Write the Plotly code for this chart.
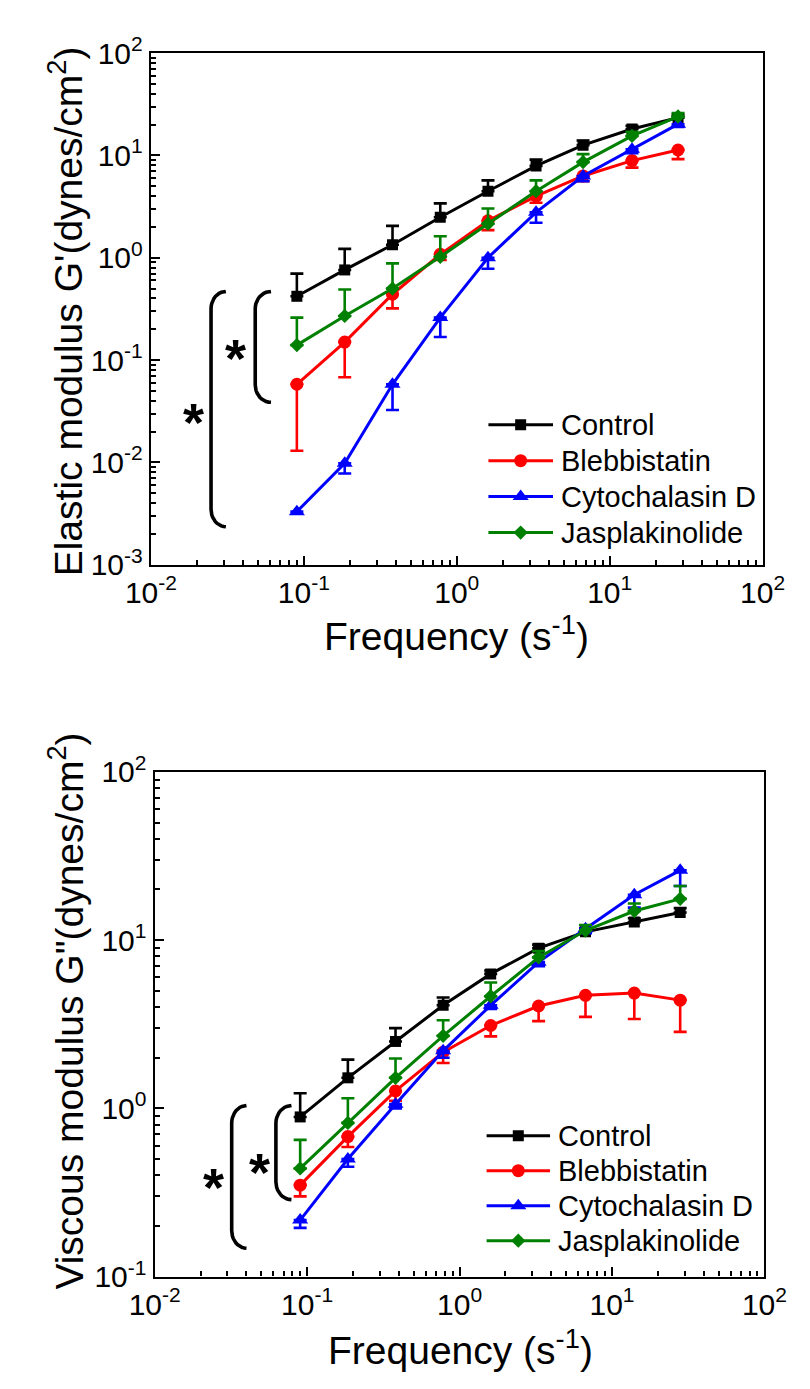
import math
import plotly.graph_objects as go

W, H = 810, 1389

# ---------------- data ----------------
freq = [0.09, 0.185, 0.38, 0.78, 1.6, 3.3, 6.7, 14, 28]
series_names = ["Control", "Blebbistatin", "Cytochalasin D", "Jasplakinolide"]

# Elastic modulus G' (values and error-bar ends)
g1_control = [0.42, 0.76, 1.34, 2.49, 4.47, 7.9, 12.6, 18.1, 23.4]
g1_control_end = [0.70, 1.22, 2.05, 3.4, 5.7, 9.1, 14.0, 19.5, 25.0]
g1_bleb = [0.058, 0.150, 0.44, 1.08, 2.3, 4.0, 6.3, 8.9, 11.3]
g1_bleb_end = [0.013, 0.068, 0.32, 0.95, 1.86, 3.45, 5.6, 7.6, 9.2]
g1_cyto = [0.0033, 0.0098, 0.058, 0.26, 1.0, 2.78, 6.3, 11.5, 20.2]
g1_cyto_end = [0.0033, 0.0078, 0.0325, 0.168, 0.78, 2.2, 5.6, 10.5, 19.0]
g1_jasp = [0.14, 0.27, 0.50, 1.02, 2.15, 4.47, 8.6, 15.5, 24.0]
g1_jasp_end = [0.26, 0.49, 0.88, 1.62, 3.03, 5.7, 10.3, 17.0, 26.0]

# Viscous modulus G''
g2_control = [0.89, 1.52, 2.5, 4.1, 6.3, 8.96, 11.2, 12.8, 14.6]
g2_control_end = [1.23, 1.95, 3.0, 4.56, 6.6, 9.4, 11.8, 13.5, 15.5]
g2_bleb = [0.35, 0.68, 1.27, 2.16, 3.11, 4.06, 4.7, 4.85, 4.4]
g2_bleb_end = [0.30, 0.59, 1.11, 1.86, 2.68, 3.3, 3.5, 3.4, 2.85]
g2_cyto = [0.217, 0.50, 1.06, 2.2, 4.1, 7.4, 11.7, 18.6, 26.0]
g2_cyto_end = [0.195, 0.45, 1.0, 2.0, 3.9, 7.0, 11.0, 15.6, 21.0]
g2_jasp = [0.44, 0.82, 1.52, 2.7, 4.64, 7.9, 11.4, 14.9, 17.6]
g2_jasp_end = [0.65, 1.15, 1.98, 3.34, 5.6, 8.6, 12.3, 16.5, 21.0]

x_tickvals = [0.01, 0.1, 1, 10, 100]
x_ticktext = ["10<sup>-2</sup>", "10<sup>-1</sup>", "10<sup>0</sup>", "10<sup>1</sup>", "10<sup>2</sup>"]
y1_tickvals = [0.001, 0.01, 0.1, 1, 10, 100]
y1_ticktext = ["10<sup>-3</sup>", "10<sup>-2</sup>", "10<sup>-1</sup>", "10<sup>0</sup>", "10<sup>1</sup>", "10<sup>2</sup>"]
y2_tickvals = [0.1, 1, 10, 100]
y2_ticktext = ["10<sup>-1</sup>", "10<sup>0</sup>", "10<sup>1</sup>", "10<sup>2</sup>"]

# significance brackets (log10 units): vertical x, arm x, top y, bottom y
br1_xv = [-1.607, -1.318]
br1_xa = [-1.510, -1.215]
br1_yt = [-0.329, -0.329]
br1_yb = [-2.629, -1.413]
star1_x = [-1.723, -1.447]
star1_y = [-1.479, -0.852]
br2_xv = [-1.495, -1.205]
br2_xa = [-1.398, -1.103]
br2_yt = [0.017, 0.017]
br2_yb = [-0.831, -0.542]
star2_x = [-1.612, -1.31]
star2_y = [-0.387, -0.301]

# ---------------- styles ----------------
colors = ["#000000", "#FF0000", "#0000FF", "#008000"]
symbols = ["square", "circle", "triangle-up", "diamond"]
msizes = [11, 13, 14, 11]
err_up = [True, False, False, True]
FONT = "Arial, Liberation Sans, sans-serif"

fig = go.Figure()


def px_x(p):
    return p / W


def px_y(p):
    return 1 - p / H


def err(vals, ends, up, color):
    n = len(vals)
    if up:
        arr = [e - v for v, e in zip(vals, ends)]
        return dict(type="data", symmetric=False, array=arr, arrayminus=[0] * n,
                    color=color, thickness=2.6, width=6.5)
    arr = [v - e for v, e in zip(vals, ends)]
    return dict(type="data", symmetric=False, array=[0] * n, arrayminus=arr,
                color=color, thickness=2.6, width=6.5)


panels = [
    ("x", "y", [g1_control, g1_bleb, g1_cyto, g1_jasp],
     [g1_control_end, g1_bleb_end, g1_cyto_end, g1_jasp_end]),
    ("x2", "y2", [g2_control, g2_bleb, g2_cyto, g2_jasp],
     [g2_control_end, g2_bleb_end, g2_cyto_end, g2_jasp_end]),
]

for xa, ya, vals, ends in panels:
    for i in range(4):
        fig.add_trace(go.Scatter(
            x=freq, y=vals[i], xaxis=xa, yaxis=ya, mode="lines+markers",
            name=series_names[i], showlegend=False,
            line=dict(color=colors[i], width=3),
            marker=dict(symbol=symbols[i], size=msizes[i], color=colors[i]),
            error_y=err(vals[i], ends[i], err_up[i], colors[i]),
        ))


def bracket(xv, xa_, yt, yb, dy):
    """Bracket '[' with rounded (elliptic) ends, in log10 units."""
    rx = xa_ - xv
    xs, ys = [], []
    n = 10
    for k in range(n + 1):  # top arc: from arm tip to vertical
        a = math.pi / 2 + (math.pi / 2) * k / n
        xs.append(xv + rx + rx * math.cos(a))
        ys.append(yt - dy + dy * math.sin(a))
    for k in range(n + 1):  # bottom arc: from vertical to arm tip
        a = math.pi + (math.pi / 2) * k / n
        xs.append(xv + rx + rx * math.cos(a))
        ys.append(yb + dy + dy * math.sin(a))
    return [10 ** v for v in xs], [10 ** v for v in ys]


for (xvs, xas, yts, ybs, dy, xa, ya) in [
    (br1_xv, br1_xa, br1_yt, br1_yb, 0.17, "x", "y"),
    (br2_xv, br2_xa, br2_yt, br2_yb, 0.105, "x2", "y2"),
]:
    for j in range(len(xvs)):
        bx, by = bracket(xvs[j], xas[j], yts[j], ybs[j], dy)
        fig.add_trace(go.Scatter(
            x=bx, y=by, xaxis=xa, yaxis=ya, mode="lines", showlegend=False,
            hoverinfo="skip", line=dict(color="black", width=3.6),
        ))

annotations = []
for sx, sy, xr, yr in [(star1_x, star1_y, "x", "y"), (star2_x, star2_y, "x2", "y2")]:
    for j in range(len(sx)):
        annotations.append(dict(
            x=sx[j], y=sy[j], xref=xr, yref=yr, text="<b>*</b>", showarrow=False,
            font=dict(family=FONT, size=54, color="black"), xanchor="center",
            yanchor="middle", yshift=-13,
        ))

# ---------------- manual legends ----------------
legend_rows = [3.5, 2.5, 1.5, 0.5]
for (lx, ly) in [("x3", "y3"), ("x4", "y4")]:
    for i in range(4):
        fig.add_trace(go.Scatter(
            x=[0, 0.5, 1], y=[legend_rows[i]] * 3, xaxis=lx, yaxis=ly,
            mode="lines", showlegend=False, hoverinfo="skip",
            line=dict(color=colors[i], width=3),
        ))
        fig.add_trace(go.Scatter(
            x=[0.5], y=[legend_rows[i]], xaxis=lx, yaxis=ly,
            mode="markers", showlegend=False, hoverinfo="skip",
            marker=dict(symbol=symbols[i], size=msizes[i], color=colors[i]),
        ))
        annotations.append(dict(
            x=1, y=legend_rows[i], xref=lx, yref=ly, text=series_names[i],
            showarrow=False, xanchor="left", yanchor="middle", xshift=6,
            font=dict(family=FONT, size=29, color="black"),
        ))

# axis titles
title_font = dict(family=FONT, size=39, color="black")
annotations += [
    dict(x=px_x(458), y=px_y(630), xref="paper", yref="paper", showarrow=False,
         text="Frequency (s<sup>-1</sup>)", font=title_font, xanchor="center", yanchor="middle"),
    dict(x=px_x(462), y=px_y(1364), xref="paper", yref="paper", showarrow=False,
         text="Frequency (s<sup>-1</sup>)", font=title_font, xanchor="center", yanchor="middle"),
    dict(x=px_x(42), y=px_y(298), xref="paper", yref="paper", showarrow=False, textangle=-90,
         text="Elastic modulus G'(dynes/cm<sup>2</sup>)", font=title_font,
         xanchor="center", yanchor="middle"),
    dict(x=px_x(42), y=px_y(1018), xref="paper", yref="paper", showarrow=False, textangle=-90,
         text="Viscous modulus G\"(dynes/cm<sup>2</sup>)", font=title_font,
         xanchor="center", yanchor="middle"),
]


def minor_vals(lo, hi):
    out = []
    for e in range(lo, hi):
        for m in range(2, 10):
            out.append(m * 10 ** e)
    return out


def log_axis(domain, rng, tv, tt, minors):
    return dict(
        type="log", domain=domain, range=rng, showline=True, linecolor="black",
        linewidth=2.4, mirror=True, ticks="inside", ticklen=9, tickwidth=2,
        tickcolor="black", showgrid=False, zeroline=False,
        tickmode="array", tickvals=tv, ticktext=tt,
        tickfont=dict(family=FONT, size=30, color="black"),
        minor=dict(ticks="inside", ticklen=5, tickwidth=1.5, tickcolor="black",
                   tickvals=minors, showgrid=False),
    )


hidden = dict(visible=False, showgrid=False, zeroline=False, fixedrange=True)

fig.update_layout(
    width=W, height=H, margin=dict(l=0, r=0, t=0, b=0),
    paper_bgcolor="white", plot_bgcolor="white", showlegend=False,
    xaxis=log_axis([px_x(133), px_x(784)], [-2, 2], x_tickvals, x_ticktext, minor_vals(-2, 2)),
    yaxis=dict(log_axis([px_y(559), px_y(33)], [-3, 2], y1_tickvals, y1_ticktext, minor_vals(-3, 2)),
               anchor="x"),
    xaxis2=dict(log_axis([px_x(137), px_x(786)], [-2, 2], x_tickvals, x_ticktext, minor_vals(-2, 2)),
                anchor="y2"),
    yaxis2=dict(log_axis([px_y(1291), px_y(772)], [-1, 2], y2_tickvals, y2_ticktext, minor_vals(-1, 2)),
                anchor="x2"),
    xaxis3=dict(hidden, domain=[px_x(492), px_x(561)], range=[0, 1], anchor="y3"),
    yaxis3=dict(hidden, domain=[px_y(544.5), px_y(396.5)], range=[0, 4], anchor="x3"),
    xaxis4=dict(hidden, domain=[px_x(490), px_x(558)], range=[0, 1], anchor="y4"),
    yaxis4=dict(hidden, domain=[px_y(1272), px_y(1128)], range=[0, 4], anchor="x4"),
    annotations=annotations,
)

fig.write_html("out.html")
